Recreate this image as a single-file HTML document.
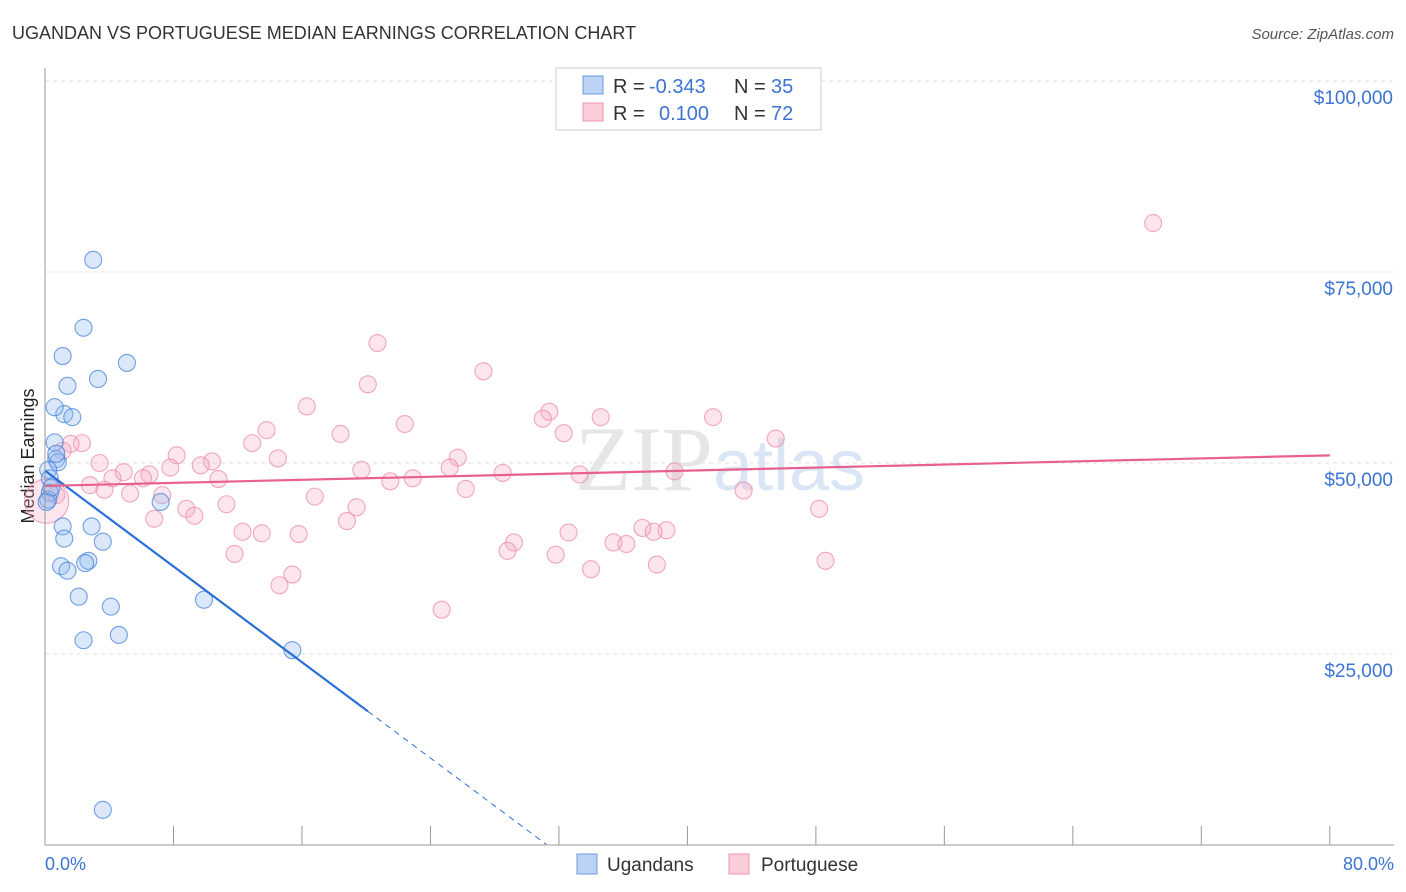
<!DOCTYPE html>
<html><head><meta charset="utf-8"><style>
body{margin:0;background:#fff;font-family:"Liberation Sans",sans-serif}
</style></head><body>
<svg id="c" width="1406" height="892" style="display:block">
<text x="12" y="39" font-size="18" fill="#333">UGANDAN VS PORTUGUESE MEDIAN EARNINGS CORRELATION CHART</text>
<text x="1394" y="39" font-size="15" fill="#555" text-anchor="end" font-style="italic">Source: ZipAtlas.com</text>
<text x="34" y="456" font-size="18" fill="#222" text-anchor="middle" transform="rotate(-90 34 456)">Median Earnings</text>
<text x="720" y="490" font-size="92" fill="#e6e6e6" text-anchor="middle" font-family="Liberation Serif">ZIP<tspan fill="#dae6f5" font-family="Liberation Sans" font-size="72">atlas</tspan></text>
<g id="grid"></g><g id="pts"></g><g id="lines"></g>
<line x1="45" y1="68" x2="45" y2="845" stroke="#999"/>
<line x1="45" y1="845" x2="1394" y2="845" stroke="#999"/>
<text x="45" y="870" font-size="18" fill="#3b74d4">0.0%</text>
<text x="1394" y="870" font-size="18" fill="#3b74d4" text-anchor="end">80.0%</text>
<g font-size="20">
<rect x="556" y="68" width="265" height="62" fill="#fff" stroke="#ccc"/>
<rect x="583" y="76" width="20" height="18" fill="#bcd3f5" stroke="#6a9be0"/>
<rect x="583" y="103" width="20" height="18" fill="#fbcdd9" stroke="#ee95b0"/>
<text x="613" y="93" fill="#333">R =</text><text x="649" y="93" fill="#3b74d4">-0.343</text>
<text x="734" y="93" fill="#333">N =</text><text x="771" y="93" fill="#3b74d4">35</text>
<text x="613" y="120" fill="#333">R =</text><text x="659" y="120" fill="#3b74d4">0.100</text>
<text x="734" y="120" fill="#333">N =</text><text x="771" y="120" fill="#3b74d4">72</text>
</g>
<g>
<rect x="577" y="854" width="20" height="20" fill="#bcd3f5" stroke="#6a9be0"/>
<text x="607" y="871" font-size="19" fill="#333">Ugandans</text>
<rect x="729" y="854" width="20" height="20" fill="#fbcdd9" stroke="#ee95b0"/>
<text x="761" y="871" font-size="19" fill="#333">Portuguese</text>
</g>
</svg>
<script>
const yTicks=[25000,50000,75000,100000];
const yTickLabels=["$25,000","$50,000","$75,000","$100,000"];
const xTicks=[0,8,16,24,32,40,48,56,64,72,80];
const ugX=[3,2.4,1.1,5.1,3.3,1.4,1.2,1.7,0.6,0.6,0.7,0.8,0.2,0.3,0.3,0.2,7.2,2.9,1.1,1.2,3.6,2.7,1,1.4,2.5,2.1,4.1,9.9,2.4,4.6,15.4,3.6,0.7,0.4,0.1];
const ugY=[76600,67700,64000,63100,61000,60100,56400,56000,57300,52700,50500,50100,49100,48000,46100,45200,44900,41700,41700,40100,39700,37200,36500,35900,36900,32500,31200,32100,26800,27500,25500,4600,51200,46800,44900];
const ptX=[69,20.7,27.3,20.1,16.3,31.4,41.6,31,34.6,22.4,13.8,18.4,32.3,45.5,2.3,1.6,12.9,1.1,25.7,8.2,14.5,10.4,3.4,9.7,7.8,19.7,25.2,39.2,4.9,33.3,28.5,6.5,6.1,4.2,22.9,21.5,10.8,2.8,3.7,26.2,5.3,7.3,16.8,0.7,43.5,11.3,19.4,8.8,48.2,9.3,6.8,18.8,12.3,13.5,15.8,32.6,37.2,38.7,37.9,29.2,35.4,36.2,28.8,31.8,11.8,48.6,38.1,34,15.4,14.6,24.7,0.1];
const ptY=[81400,65700,62000,60300,57400,56700,56000,55800,56000,55100,54300,53800,53900,53200,52600,52500,52600,51600,50700,51000,50600,50200,50000,49700,49400,49100,49400,48900,48800,48500,48700,48500,48000,48000,48000,47600,47900,47100,46500,46600,46000,45800,45600,45800,46400,44600,44200,44000,44000,43100,42700,42400,41000,40800,40700,40900,41500,41200,41000,39600,39600,39400,38500,38000,38100,37200,36700,36100,35400,34000,30800,45000];
const blueLine={x1:0,y1:49000,x2:20.1,y2:17500,xEnd:31.2};
const pinkLine={x1:0,y1:47000,x2:80,y2:51000};
const X=p=>45+p*16.06, Y=v=>845-v*0.00764;
const NS="http://www.w3.org/2000/svg";
function mk(t,a,parent){const e=document.createElementNS(NS,t);for(const k in a)e.setAttribute(k,a[k]);parent.appendChild(e);return e;}
const grid=document.getElementById('grid');
yTicks.forEach((v,i)=>{
 const l=mk('line',{x1:45,x2:1394,y1:Y(v),y2:Y(v),stroke:'#e2e2e2','stroke-dasharray':'4,4'},grid);
 
 
 const t=mk('text',{x:1393,y:Y(v)+23,'font-size':19,fill:'#3b74d4','text-anchor':'end'},grid);
 t.textContent=yTickLabels[i];
 
 
});
xTicks.forEach(p=>{
 const l=mk('line',{x1:X(p),x2:X(p),y1:826,y2:845,stroke:'#999'},grid);
 
 
});
const pts=document.getElementById('pts');
ptX.forEach((p,i)=>{
 const big=i===ptX.length-1;
 const c=mk('circle',{cx:X(p),cy:Y(ptY[i]),r:big?22:8.5,fill:'rgba(246,170,195,0.3)',stroke:'rgba(236,140,170,0.75)','stroke-width':1.1},pts);
 
 
});
ugX.forEach((p,i)=>{
 const c=mk('circle',{cx:X(p),cy:Y(ugY[i]),r:8.5,fill:'rgba(150,190,240,0.35)',stroke:'rgba(70,130,220,0.75)','stroke-width':1.1},pts);
 
 
});
const lines=document.getElementById('lines');
const slope=(blueLine.y2-blueLine.y1)/(blueLine.x2-blueLine.x1);
const b1=mk('line',{x1:X(blueLine.x1),y1:Y(blueLine.y1),x2:X(blueLine.x2),y2:Y(blueLine.y2),stroke:'#2a6fd8','stroke-width':2.2},lines);


const b2=mk('line',{x1:X(blueLine.x2),y1:Y(blueLine.y2),x2:X(blueLine.xEnd),y2:Y(blueLine.y1+slope*blueLine.xEnd),stroke:'#2a6fd8','stroke-width':1,'stroke-dasharray':'6,5'},lines);


const p1=mk('line',{x1:X(pinkLine.x1),y1:Y(pinkLine.y1),x2:X(pinkLine.x2),y2:Y(pinkLine.y2),stroke:'#e8608e','stroke-width':2.2},lines);


</script>
</body></html>
